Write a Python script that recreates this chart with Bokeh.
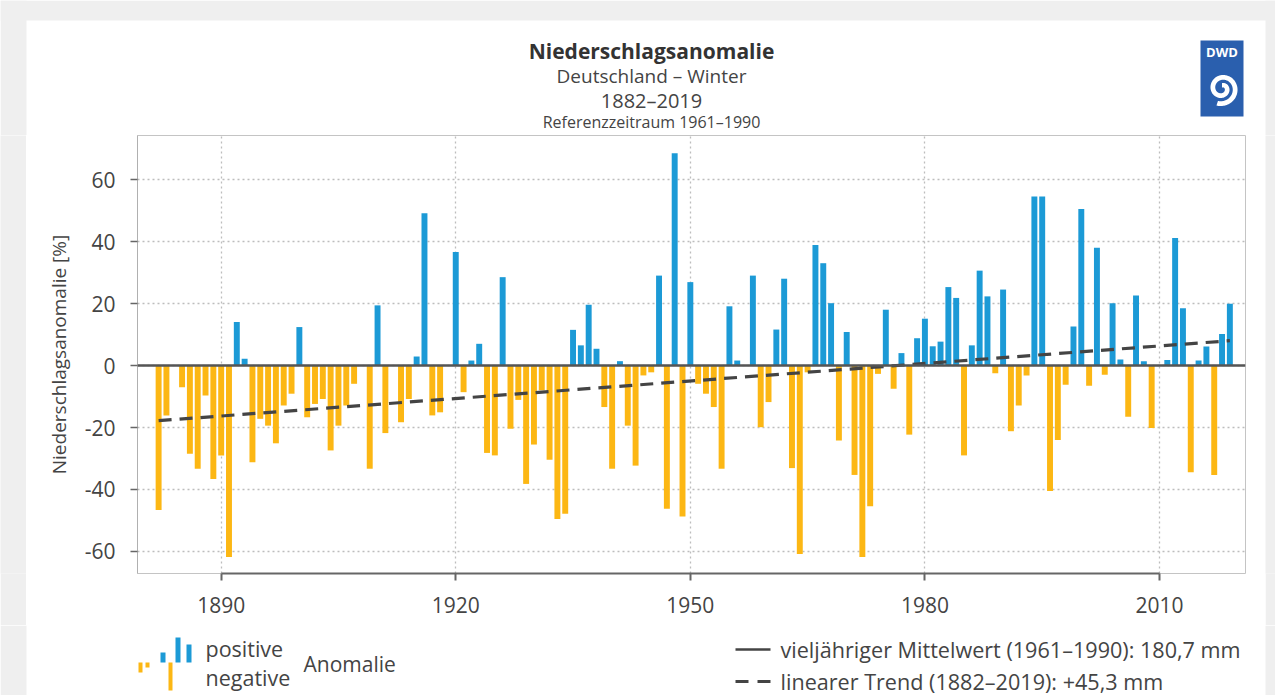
import numpy as np
from bokeh.plotting import figure
from bokeh.layouts import column, row
from bokeh.models import ColumnDataSource, Range1d, FixedTicker, Span
from bokeh.core.properties import value
from bokeh.embed import file_html
from bokeh.resources import INLINE

# ---------------- data ----------------
years = list(range(1882, 2020))
anomaly = [
    # 1882-1889
    -46.6, -16.1, 0.0, -7.0, -28.5, -33.3, -9.7, -36.6,
    # 1890-1899
    -29.0, -61.8, 14.0, 2.2, -31.2, -17.2, -19.4, -25.1, -12.9, -9.1,
    # 1900-1909
    12.4, -16.7, -12.4, -10.8, -27.4, -19.4, -12.9, -5.9, 0.0, -33.3,
    # 1910-1919
    19.4, -21.8, 0.0, -18.3, -10.8, 2.9, 49.1, -16.1, -15.1, 0.0,
    # 1920-1929
    36.6, -8.6, 1.6, 7.0, -28.2, -29.0, 28.5, -20.4, -11.1, -38.2,
    # 1930-1939
    -25.5, -8.0, -30.4, -49.5, -47.8, 11.5, 6.5, 19.6, 5.4, -13.4,
    # 1940-1949
    -33.3, 1.4, -19.4, -32.3, -3.2, -2.2, 29.0, -46.2, 68.5, -48.7,
    # 1950-1959
    26.9, -5.9, -9.1, -13.4, -33.3, 19.1, 1.6, 0.0, 29.0, -19.9,
    # 1960-1969
    -11.8, 11.6, 28.0, -33.1, -60.8, -2.2, 38.9, 33.0, 20.1, -24.2,
    # 1970-1979
    10.8, -35.3, -61.8, -45.4, -2.7, 18.0, -7.5, 4.0, -22.3, 8.8,
    # 1980-1989
    15.1, 6.2, 7.7, 25.3, 21.8, -29.0, 6.5, 30.6, 22.3, -2.5,
    # 1990-1999
    24.5, -21.2, -12.9, -3.2, 54.5, 54.5, -40.5, -24.0, -6.2, 12.6,
    # 2000-2009
    50.5, -6.5, 38.0, -3.0, 20.1, 1.9, -16.5, 22.6, 1.4, -20.2,
    # 2010-2019
    0.0, 1.8, 41.1, 18.5, -34.4, 1.6, 6.1, -35.3, 10.2, 19.9,
]
trend_years = [1882, 2019]
trend_values = [-17.8, 8.0]
x_ticks = [1890, 1920, 1950, 1980, 2010]
y_ticks = [-60, -40, -20, 0, 20, 40, 60]

title_lines = ["Niederschlagsanomalie", "Deutschland – Winter", "1882–2019",
               "Referenzzeitraum 1961–1990"]
y_label = "Niederschlagsanomalie [%]"
legend_pos = "positive"
legend_neg = "negative"
legend_anom = "Anomalie"
legend_mean = "vieljähriger Mittelwert (1961–1990): 180,7 mm"
legend_trend = "linearer Trend (1882–2019): +45,3 mm"

# ---------------- style ----------------
BLUE = "#1c9ad6"
ORANGE = "#fcb714"
TXT = "#444444"
GRAY_BG = "#efefef"
FONT = "Open Sans"

W = 1275
HEAD_H = 135
MAIN_H = 490
FOOT_H = 70
LEFT_W = 26
RIGHT_W = 10


def blank(width, height, x0, x1, y0, y1, bg="white"):
    f = figure(width=width, height=height, output_backend="svg",
               toolbar_location=None, x_axis_type=None, y_axis_type=None,
               x_range=Range1d(x0, x1), y_range=Range1d(y1, y0),
               min_border_left=0, min_border_right=0, min_border_top=0,
               min_border_bottom=0)
    f.outline_line_color = None
    f.background_fill_color = bg
    f.border_fill_color = bg
    f.grid.visible = False
    return f


def txt(f, x, y, text, size, bold=False, align="center", color=TXT):
    f.text(x=[x], y=[y], text=[text], text_font=value(FONT),
           text_font_size=size, text_font_style="bold" if bold else "normal",
           text_color=color, text_align=align, text_baseline="middle")


# ---------------- header (page pixel coordinates) ----------------
head = blank(W, HEAD_H, 0, W, 0, HEAD_H)
head.quad(left=[0, 0, W - RIGHT_W], right=[W, LEFT_W, W],
          top=[0, 0, 0], bottom=[20, HEAD_H, HEAD_H],
          color=GRAY_BG, line_alpha=0)
txt(head, 651, 50, title_lines[0], "21px", bold=True, color="#333333")
txt(head, 651, 75, title_lines[1], "19px")
txt(head, 651, 100, title_lines[2], "20px")
txt(head, 651, 121, title_lines[3], "16px")

# DWD logo
head.quad(left=[1200], right=[1243], top=[40], bottom=[116],
          color="#2a5fae", line_alpha=0)
txt(head, 1221.5, 51, "DWD", "13px", bold=True, color="white")
th = np.linspace(0, 3.1 * np.pi, 180)
rr = 3.0 + 12.5 * th / th[-1]
cx, cy = 1221.5, 88
ox = cx + (rr + 2.4) * np.cos(th - np.pi / 2)
oy = cy + (rr + 2.4) * np.sin(th - np.pi / 2)
ix = cx + (rr - 2.4) * np.cos(th - np.pi / 2)
iy = cy + (rr - 2.4) * np.sin(th - np.pi / 2)
head.patch(list(ox) + list(ix[::-1]), list(oy) + list(iy[::-1]),
           color="white", line_alpha=0)

# ---------------- main chart ----------------
colors = [BLUE if v > 0 else ORANGE for v in anomaly]
src = ColumnDataSource(dict(x=years, top=anomaly, color=colors))

MAIN_W = W - LEFT_W - RIGHT_W
p = figure(width=MAIN_W, height=MAIN_H, output_backend="svg",
           toolbar_location=None,
           x_range=Range1d(1879.3, 2021.0), y_range=Range1d(-67.1, 74.2),
           min_border_left=137 - LEFT_W, min_border_right=(W - RIGHT_W) - 1245,
           min_border_top=0, min_border_bottom=MAIN_H - 438)
p.border_fill_color = "white"
p.background_fill_color = "white"
p.outline_line_color = "#c4c4c4"
p.outline_line_width = 1

p.xgrid.ticker = FixedTicker(ticks=x_ticks)
p.ygrid.ticker = FixedTicker(ticks=y_ticks)
for g in (p.xgrid, p.ygrid):
    g.grid_line_color = "#bdbdbd"
    g.grid_line_dash = "2 3"
    g.grid_line_width = 1.3

xa = p.xaxis[0]
xa.ticker = FixedTicker(ticks=x_ticks)
xa.bounds = (1890, 2010)
xa.axis_line_color = "#666666"
xa.axis_line_width = 2
xa.major_tick_line_color = "#666666"
xa.major_tick_line_width = 2
xa.major_tick_out = 7
xa.major_tick_in = 0
xa.minor_tick_line_color = None
xa.major_label_standoff = 16
xa.major_label_text_font = FONT
xa.major_label_text_font_size = "21px"
xa.major_label_text_color = TXT

ya = p.yaxis[0]
ya.ticker = FixedTicker(ticks=y_ticks)
ya.axis_line_color = "#b0b0b0"
ya.axis_line_width = 1
ya.major_tick_line_color = "#666666"
ya.major_tick_line_width = 1.5
ya.major_tick_out = 7
ya.major_tick_in = 0
ya.minor_tick_line_color = None
ya.major_label_standoff = 15
ya.major_label_text_font = FONT
ya.major_label_text_font_size = "21px"
ya.major_label_text_color = TXT
ya.major_label_overrides = {t: str(t) for t in y_ticks}
ya.axis_label = y_label
ya.axis_label_text_font = FONT
ya.axis_label_text_font_size = "19px"
ya.axis_label_text_font_style = "normal"
ya.axis_label_text_color = TXT
ya.axis_label_standoff = 10

p.vbar(x="x", top="top", bottom=0, width=0.76, color="color", source=src,
       line_alpha=0)
p.line(trend_years, trend_values, line_color="#444444", line_width=3.2,
       line_dash="13 8")
p.add_layout(Span(location=0, dimension="width", line_color="#555555",
                  line_width=2.5))

left_strip = blank(LEFT_W, MAIN_H, 0, 1, 0, 1, bg=GRAY_BG)
right_strip = blank(RIGHT_W, MAIN_H, 0, 1, 0, 1, bg=GRAY_BG)

# ---------------- footer (page pixel coordinates) ----------------
F0 = HEAD_H + MAIN_H
foot = blank(W, FOOT_H, 0, W, F0, F0 + FOOT_H)
foot.quad(left=[0, W - RIGHT_W], right=[LEFT_W, W], top=[F0, F0],
          bottom=[F0 + FOOT_H, F0 + FOOT_H], color=GRAY_BG, line_alpha=0)
# bar icon
foot.quad(left=[138, 145, 168], right=[142, 149, 172], top=[662, 662, 662],
          bottom=[672, 667, 690], color=ORANGE, line_alpha=0)
foot.quad(left=[160, 175, 186], right=[165, 180, 191], top=[652, 637, 644],
          bottom=[662, 662, 662], color=BLUE, line_alpha=0)
txt(foot, 205, 648, legend_pos, "21.5px", align="left")
txt(foot, 205, 677, legend_neg, "21.5px", align="left")
txt(foot, 303, 663, legend_anom, "21px", align="left")
# line samples
foot.line([735, 770], [649, 649], line_color="#444444", line_width=2.5)
foot.line([735, 770], [681, 681], line_color="#444444", line_width=3,
          line_dash="13 9")
txt(foot, 780, 649, legend_mean, "21.6px", align="left")
txt(foot, 780, 681, legend_trend, "21.6px", align="left")

layout = column(head, row(left_strip, p, right_strip), foot)
open("out.html", "w").write(file_html(layout, INLINE))
